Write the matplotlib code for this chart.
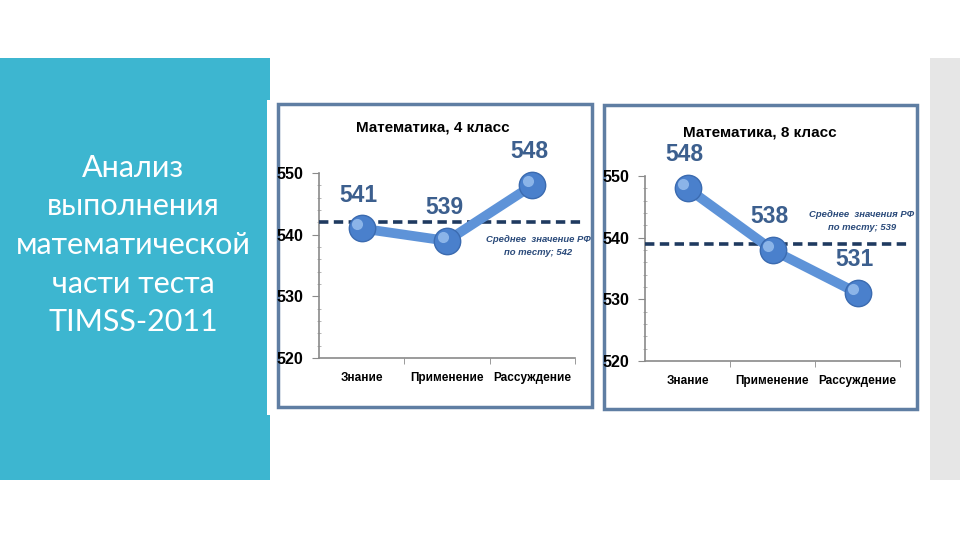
import numpy as np
import matplotlib.pyplot as plt
from matplotlib.patches import Rectangle
from matplotlib.transforms import ScaledTranslation

# данные
categories = ['Знание', 'Применение', 'Рассуждение']
grade4 = [541, 539, 548]
grade8 = [548, 538, 531]
mean4 = 542
mean8 = 539
titles = ['Математика, 4 класс', 'Математика, 8 класс']
notes = ['Среднее  значение РФ\nпо тесту; 542', 'Среднее  значения РФ\nпо тесту; 539']
side_text = 'Анализ\nвыполнения\nматематической\nчасти теста\nTIMSS-2011'

W, H = 960, 540
narrow = ['Liberation Sans Narrow', 'Liberation Sans', 'DejaVu Sans']

fig = plt.figure(figsize=(9.6, 5.4), dpi=100)
fig.patch.set_facecolor('white')


def box(x0, y0, x1, y1, **kw):
    # прямоугольник в пикселях (от верхнего левого угла)
    r = Rectangle((x0 / W, 1 - y1 / H), (x1 - x0) / W, (y1 - y0) / H,
                  transform=fig.transFigure, **kw)
    fig.patches.append(r)


# фон слайда
box(0, 58, 270, 480, facecolor='#3db6d0', edgecolor='none', zorder=0)
box(930, 58, 960, 480, facecolor='#e6e6e6', edgecolor='none', zorder=0)
box(267, 100, 600, 415, facecolor='white', edgecolor='none', zorder=0)
box(278, 104, 592, 407, facecolor='white', edgecolor='#5f7ea3', linewidth=2.5, zorder=1)
box(604, 105, 917, 409, facecolor='white', edgecolor='#5f7ea3', linewidth=2.5, zorder=1)

fig.text(133 / W, 1 - 245 / H, side_text, color='white', fontsize=22,
         family=['Lato', 'DejaVu Sans'], fontweight='normal',
         ha='center', va='center', linespacing=1.46)

charts = [
    dict(vals=grade4, mean=mean4, title=titles[0], note=notes[0],
         ax=(319, 575, 173, 358), title_xy=(433, 128), note_xy=(538, 246)),
    dict(vals=grade8, mean=mean8, title=titles[1], note=notes[1],
         ax=(645, 900, 176, 361), title_xy=(760, 133), note_xy=(862, 221)),
]

for c in charts:
    x0, x1, ytop, ybot = c['ax']
    ax = fig.add_axes([x0 / W, 1 - ybot / H, (x1 - x0) / W, (ybot - ytop) / H])
    ax.set_facecolor('none')
    ax.set_zorder(2)
    x = np.arange(len(categories))
    ax.set_xlim(-0.5, len(categories) - 0.5)
    ax.set_ylim(520, 550)

    for s in ['top', 'right']:
        ax.spines[s].set_visible(False)
    for s in ['left', 'bottom']:
        ax.spines[s].set_color('#8a8a8a')
        ax.spines[s].set_linewidth(1.2)

    ax.set_yticks([520, 530, 540, 550])
    ax.set_yticks(np.arange(520, 551, 2), minor=True)
    ax.tick_params(axis='y', which='major', length=5, color='#8a8a8a', labelsize=11.5, pad=6)
    ax.tick_params(axis='y', which='minor', length=3, color='#aaaaaa', direction='inout')
    ax.set_xticks(x)
    ax.set_xticks([0.5, 1.5, 2.5], minor=True)
    ax.tick_params(axis='x', which='major', length=0, labelsize=8.5, pad=10)
    ax.tick_params(axis='x', which='minor', length=4, color='#8a8a8a')
    ax.set_xticklabels(categories)
    for lab in ax.get_xticklabels() + ax.get_yticklabels():
        lab.set_family(narrow)
        lab.set_fontweight('bold')

    ax.axhline(c['mean'], xmin=0, xmax=1.04, color='#1f3a60', linewidth=2.6,
               linestyle=(0, (2.6, 1.5)), clip_on=False, zorder=3)

    ax.plot(x, c['vals'], color='#5e93d8', linewidth=7, solid_capstyle='round',
            zorder=4, clip_on=False)
    ax.plot(x, c['vals'], linestyle='none', marker='o', markersize=19,
            markerfacecolor='#4a80cc', markeredgecolor='#3b6bb0', markeredgewidth=1,
            zorder=5, clip_on=False)
    hl = ax.transData + ScaledTranslation(-3 / 72, 3 / 72, fig.dpi_scale_trans)
    ax.plot(x, c['vals'], linestyle='none', marker='o', markersize=8,
            markerfacecolor='#9cc2f0', markeredgecolor='none', alpha=0.8,
            transform=hl, zorder=6, clip_on=False)

    for xi, v in zip(x, c['vals']):
        ax.annotate(str(v), (xi, v), xytext=(-2, 24), textcoords='offset points',
                    ha='center', va='center', fontsize=16.5, fontweight='bold',
                    color='#3c5f8e', family=narrow, zorder=7)

    tx, ty = c['title_xy']
    fig.text(tx / W, 1 - ty / H, c['title'], ha='center', va='center',
             fontsize=11, fontweight='bold', family=narrow, color='black', zorder=7)
    nx, ny = c['note_xy']
    fig.text(nx / W, 1 - ny / H, c['note'], ha='center', va='center',
             fontsize=6.8, fontweight='bold', style='italic', family=narrow,
             color='#2a4a7a', linespacing=1.5, zorder=7)

fig.savefig('out.png', dpi=100)
